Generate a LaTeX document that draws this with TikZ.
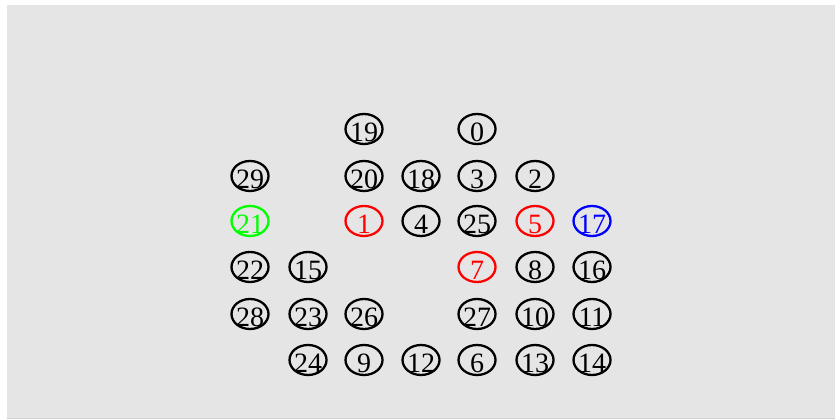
\documentclass[tikz,border=0pt]{standalone}
\usepackage{fontspec}
\setmainfont{Liberation Serif}
\usetikzlibrary{shapes.geometric}
\definecolor{bg}{HTML}{E5E5E5}
\definecolor{bgline}{HTML}{D0D0D0}
\definecolor{ngreen}{HTML}{00FF00}
\definecolor{nred}{HTML}{FF0000}
\definecolor{nblue}{HTML}{0000FF}
\begin{document}
\begin{tikzpicture}[x=1pt,y=-1pt,
  ell/.style={shape=ellipse,draw=#1,line width=2.3pt,minimum width=37pt,minimum height=30pt,inner sep=0pt},
  ell/.default=black,
  lbl/.style={font=\fontsize{28}{28}\selectfont,text=#1,inner sep=0pt,yshift=-3pt},
  lbl/.default=black]
\useasboundingbox (0,0) rectangle (835,419);
\fill[white] (0,0) rectangle (835,419);
\fill[bg] (7,5) rectangle (835,418);
\fill[bgline] (7,417.5) rectangle (835,419);
% row 1
\node[ell,label={[lbl]center:19}] (n19) at (364,129) {};
\node[ell,label={[lbl]center:0}] (n0) at (477,129) {};
% row 2
\node[ell,label={[lbl]center:29}] (n29) at (250,176) {};
\node[ell,label={[lbl]center:20}] (n20) at (364,176) {};
\node[ell,label={[lbl]center:18}] (n18) at (421,176) {};
\node[ell,label={[lbl]center:3}] (n3) at (477,176) {};
\node[ell,label={[lbl]center:2}] (n2) at (535,176) {};
% row 3
\node[ell=ngreen,label={[lbl=ngreen]center:21}] (n21) at (250,221) {};
\node[ell=nred,label={[lbl=nred]center:1}] (n1) at (364,221) {};
\node[ell,label={[lbl]center:4}] (n4) at (421,221) {};
\node[ell,label={[lbl]center:25}] (n25) at (477,221) {};
\node[ell=nred,label={[lbl=nred]center:5}] (n5) at (535,221) {};
\node[ell=nblue,label={[lbl=nblue]center:17}] (n17) at (592,221) {};
% row 4
\node[ell,label={[lbl]center:22}] (n22) at (250,267) {};
\node[ell,label={[lbl]center:15}] (n15) at (308,267) {};
\node[ell=nred,label={[lbl=nred]center:7}] (n7) at (477,267) {};
\node[ell,label={[lbl]center:8}] (n8) at (535,267) {};
\node[ell,label={[lbl]center:16}] (n16) at (592,267) {};
% row 5
\node[ell,label={[lbl]center:28}] (n28) at (250,314) {};
\node[ell,label={[lbl]center:23}] (n23) at (308,314) {};
\node[ell,label={[lbl]center:26}] (n26) at (364,314) {};
\node[ell,label={[lbl]center:27}] (n27) at (477,314) {};
\node[ell,label={[lbl]center:10}] (n10) at (535,314) {};
\node[ell,label={[lbl]center:11}] (n11) at (592,314) {};
% row 6
\node[ell,label={[lbl]center:24}] (n24) at (308,360) {};
\node[ell,label={[lbl]center:9}] (n9) at (364,360) {};
\node[ell,label={[lbl]center:12}] (n12) at (421,360) {};
\node[ell,label={[lbl]center:6}] (n6) at (477,360) {};
\node[ell,label={[lbl]center:13}] (n13) at (535,360) {};
\node[ell,label={[lbl]center:14}] (n14) at (592,360) {};
\end{tikzpicture}
\end{document}
